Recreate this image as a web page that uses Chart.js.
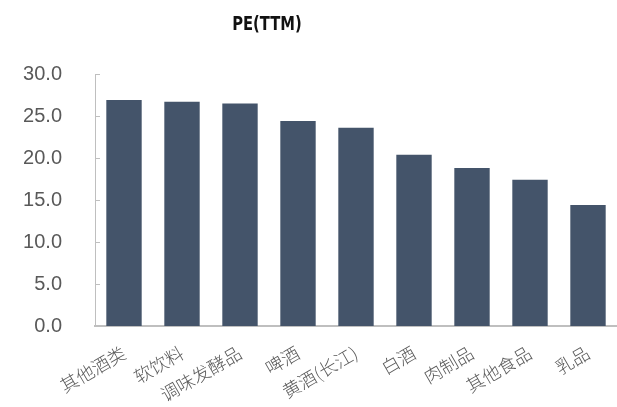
<!DOCTYPE html>
<html>
<head>
<meta charset="utf-8">
<script src="https://cdn.jsdelivr.net/npm/chart.js@4/dist/chart.umd.min.js"></script>
<style>
  html, body { margin: 0; padding: 0; background: #fff; }
  #wrap { width: 617px; height: 407px; position: relative; }
</style>
</head>
<body>
<div id="wrap"><canvas id="peChart"></canvas></div>
<script>
const categories = ["其他酒类", "软饮料", "调味发酵品", "啤酒", "黄酒(长江)", "白酒", "肉制品", "其他食品", "乳品"];
const peValues = [26.9, 26.7, 26.5, 24.4, 23.6, 20.4, 18.8, 17.4, 14.4];
const yTicks = [0, 5, 10, 15, 20, 25, 30];
const chartTitle = "PE(TTM)";

const axisGray = "#BFBFBF";
const textGray = "#595959";

// title sits left of centre, drawn by hand in a squeezed face
const titlePlugin = {
  id: "titleText",
  afterDraw(chart) {
    const ctx = chart.ctx;
    ctx.save();
    ctx.translate(267, 25);
    ctx.scale(0.82, 1);
    ctx.font = "bold 20px 'DejaVu Sans Condensed'";
    ctx.fillStyle = "#111";
    ctx.textAlign = "center";
    ctx.textBaseline = "middle";
    ctx.fillText(chartTitle, 0, 0);
    ctx.restore();
  }
};

// short tick marks on the inside of the value axis
const innerTicks = {
  id: "innerTicks",
  afterDatasetsDraw(chart) {
    const y = chart.scales.y;
    const ctx = chart.ctx;
    ctx.save();
    ctx.strokeStyle = axisGray;
    ctx.lineWidth = 1;
    ctx.beginPath();
    yTicks.forEach(v => {
      const py = Math.round(y.getPixelForValue(v)) + 0.5;
      ctx.moveTo(y.right, py);
      ctx.lineTo(y.right + 5, py);
    });
    ctx.stroke();
    ctx.restore();
  }
};

new Chart(document.getElementById("peChart"), {
  type: "bar",
  data: {
    labels: categories,
    datasets: [{
      data: peValues,
      backgroundColor: "#44546A",
      barPercentage: 0.61,
      categoryPercentage: 1.0
    }]
  },
  options: {
    responsive: true,
    maintainAspectRatio: false,
    animation: false,
    layout: { padding: { top: 74, right: 0, left: 0, bottom: 0 } },
    plugins: {
      legend: { display: false },
      tooltip: { enabled: false }
    },
    scales: {
      x: {
        grid: { display: false, drawTicks: false },
        border: { color: axisGray, width: 2 },
        ticks: {
          color: textGray,
          font: { family: "'Noto Sans CJK SC'", size: 18, weight: 300 },
          minRotation: 30,
          maxRotation: 30,
          padding: 16,
          autoSkip: false
        },
        afterFit(scale) { scale.height = 81; }
      },
      y: {
        min: 0,
        max: 30,
        afterBuildTicks(scale) {
          scale.ticks = yTicks.map(v => ({ value: v }));
        },
        grid: { display: false, drawTicks: false },
        border: { color: axisGray, width: 1 },
        ticks: {
          color: textGray,
          font: { family: "'Liberation Sans'", size: 20 },
          padding: 33,
          callback: v => v.toFixed(1)
        },
        afterFit(scale) { scale.width = 95; }
      }
    }
  },
  plugins: [titlePlugin, innerTicks]
});
</script>
</body>
</html>
